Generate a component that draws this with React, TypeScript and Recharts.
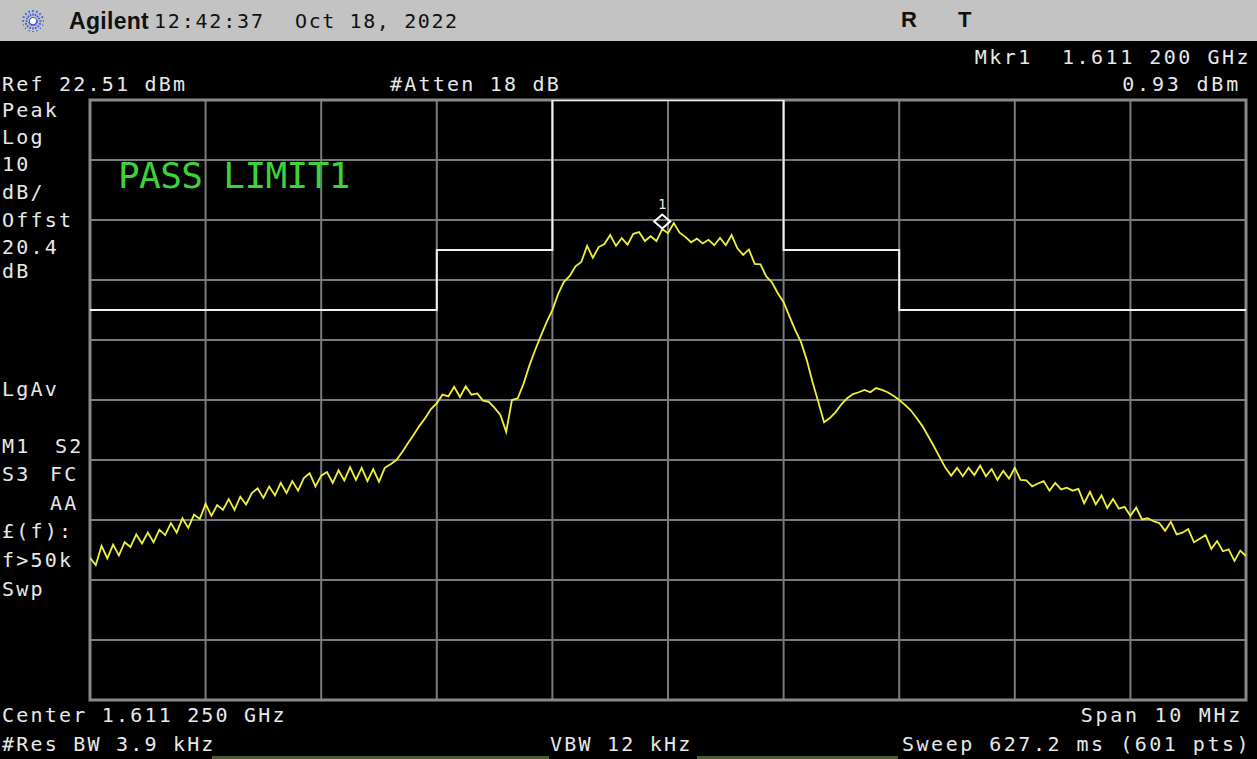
import React from 'react';
import { LineChart, Line, XAxis, YAxis, CartesianGrid, ReferenceDot, ReferenceArea } from 'recharts';

// screen: 10 div x 1 MHz around centre, 10 dB/div from ref level
const X_TICKS = [-5, -4, -3, -2, -1, 0, 1, 2, 3, 4, 5];
const Y_TICKS = [22.51, 12.51, 2.51, -7.49, -17.49, -27.49, -37.49, -47.49, -57.49, -67.49, -77.49];
const Y_MIN = -77.49;
const Y_MAX = 22.51;

// trace, every 0.05 MHz from -5 MHz (dBm)
const TRACE_START = -5;
const TRACE_STEP = 0.05;
const TRACE_DBM = [
  -53.8, -55.0, -51.8, -53.9, -51.6, -53.4, -51.2, -52.0, -49.9, -51.4,
  -49.6, -51.2, -49.1, -50.0, -48.0, -49.6, -47.2, -48.8, -46.6, -47.3,
  -44.8, -46.8, -45.0, -45.8, -44.0, -45.8, -43.6, -44.9, -43.0, -42.2,
  -43.8, -41.9, -43.4, -41.3, -43.0, -41.0, -42.6, -40.5, -39.7, -41.9,
  -40.1, -39.5, -41.3, -39.2, -40.9, -38.7, -40.8, -38.8, -41.0, -39.0,
  -41.1, -38.8, -38.2, -37.5, -36.2, -34.7, -33.3, -31.8, -30.5, -29.0,
  -28.0, -26.6, -26.9, -25.3, -27.0, -25.2, -26.6, -26.4, -27.6, -27.8,
  -28.8, -30.0, -32.8, -27.5, -27.2, -24.8, -21.8, -19.2, -16.8, -14.5,
  -12.5, -9.8, -7.8, -6.8, -5.2, -4.5, -1.8, -3.8, -2.0, -1.5,
  0.0, -1.8, -0.5, -1.6, 0.2, 0.5, -1.0, -0.2, -1.0, 1.0,
  0.3, 2.0, 0.4, -0.3, -1.2, -0.6, -1.4, -0.8, -1.7, -0.5,
  -1.7, 0.0, -2.2, -3.3, -2.4, -4.8, -4.9, -6.9, -7.9, -9.7,
  -11.2, -13.5, -15.8, -17.8, -20.8, -24.5, -27.8, -31.2, -30.5, -29.5,
  -28.2, -27.2, -26.5, -26.2, -25.8, -26.2, -25.5, -25.8, -26.2, -26.8,
  -27.5, -28.3, -29.2, -30.5, -31.8, -33.5, -35.2, -37.0, -38.8, -40.1,
  -38.8, -40.2, -38.8, -40.0, -38.4, -40.2, -39.0, -40.8, -39.3, -40.6,
  -38.8, -40.8, -40.9, -41.9, -41.4, -41.0, -42.6, -41.3, -42.4, -42.1,
  -42.6, -42.3, -44.7, -42.8, -44.9, -43.4, -45.5, -44.0, -45.6, -45.3,
  -46.8, -45.4, -47.4, -47.2, -47.7, -48.0, -49.3, -47.8, -49.9, -49.6,
  -49.0, -51.2, -50.6, -50.0, -52.3, -51.0, -52.7, -52.4, -54.3, -52.6,
  -53.5,
];

// limit line 1 (steps)
const LIMIT_F = [-5, -2, -1, 1, 2, 5];
const LIMIT_DBM = [-12.49, -2.49, 22.51, -2.49, -12.49, -12.49];

const MARKER_F = -0.05;
const MARKER_DBM = 0.93;

const LEFT_LABELS = [
  ['Peak', 2, 110], ['Log', 2, 137], ['10', 2, 164], ['dB/', 2, 192], ['Offst', 2, 220],
  ['20.4', 2, 247], ['dB', 2, 271], ['LgAv', 2, 389], ['M1', 2, 446], ['S2', 55, 446],
  ['S3', 2, 474], ['FC', 50, 474], ['AA', 50, 503], ['£(f):', 2, 531], ['f>50k', 2, 560], ['Swp', 2, 589],
];

const traceData = TRACE_DBM.map((v, i) => ({ f: +(TRACE_START + i * TRACE_STEP).toFixed(2), dbm: v }));
const limitData = LIMIT_F.map((f, i) => ({ f, dbm: LIMIT_DBM[i] }));

const MONO = '"DejaVu Sans Mono", "Liberation Mono", monospace';
const SANS = '"Liberation Sans", Arial, sans-serif';

function T({ s, x, y, right = false, size = 20, color = '#e8e8e8', ls = 2.2, font = MONO, bold = false }: any) {
  const style: any = {
    position: 'absolute',
    top: y - size * 0.48,
    lineHeight: size + 'px',
    fontSize: size,
    fontFamily: font,
    fontWeight: bold ? 700 : 400,
    color,
    letterSpacing: ls,
    whiteSpace: 'pre',
  };
  if (right) style.right = 1257 - x;
  else style.left = x;
  return <div style={style}>{s}</div>;
}

const MarkerShape = (props: any) => {
  const { cx, cy } = props;
  const top = cy - 15;
  return (
    <g>
      <polygon
        points={`${cx},${cy - 1} ${cx + 8},${cy - 8} ${cx},${top} ${cx - 8},${cy - 8}`}
        fill="none"
        stroke="#ffffff"
        strokeWidth={2}
      />
      <text x={cx} y={top - 5} fill="#e8e8e8" fontSize={14} fontFamily={MONO} textAnchor="middle">1</text>
    </g>
  );
};

const Star = () => (
  <svg width={28} height={28} style={{ position: 'absolute', left: 19, top: 7 }}>
    {[0, 22.5, 45, 67.5, 90, 112.5, 135, 157.5].map((a) => {
      const r = (a * Math.PI) / 180;
      return (
        <line key={a} x1={14 - Math.cos(r) * 11} y1={14 - Math.sin(r) * 11} x2={14 + Math.cos(r) * 11} y2={14 + Math.sin(r) * 11}
          stroke="#3a55d8" strokeWidth={1.5} strokeDasharray="2 1.5" />
      );
    })}
    <circle cx={14} cy={14} r={3} fill="#ffffff" />
  </svg>
);

export default function App() {
  return (
    <div style={{ position: 'absolute', left: 0, top: 0, width: 1257, height: 759, background: '#000', overflow: 'hidden' }}>
      {/* title bar */}
      <div style={{ position: 'absolute', left: 0, top: 0, width: 1257, height: 41, background: '#c3c3c3' }} />
      <Star />
      <T s="Agilent" x={69} y={21} size={23} font={SANS} bold color="#111" ls={0.3} />
      <T s="12:42:37" x={154} y={21} size={20} color="#111" ls={1.8} />
      <T s="Oct 18, 2022" x={295} y={21} size={20} color="#111" ls={1.6} />
      <T s="R" x={901} y={20} size={22} font={SANS} bold color="#111" ls={0} />
      <T s="T" x={958} y={20} size={22} font={SANS} bold color="#111" ls={0} />

      {/* header */}
      <T s="Mkr1  1.611 200 GHz" x={1251} y={57} right ls={2.5} />
      <T s="Ref 22.51 dBm" x={2} y={84} />
      <T s="#Atten 18 dB" x={390} y={84} />
      <T s="0.93 dBm" x={1241} y={84} right ls={2.8} />

      {LEFT_LABELS.map(([s, x, y]: any) => (
        <T key={s + y} s={s} x={x} y={y} />
      ))}

      <div style={{ position: 'absolute', left: 0, top: 0 }}>
        <LineChart width={1257} height={759} data={traceData} margin={{ top: 100, right: 11, bottom: 59, left: 90 }}>
          <XAxis type="number" dataKey="f" domain={[-5, 5]} ticks={X_TICKS} hide allowDataOverflow />
          <YAxis type="number" domain={[Y_MIN, Y_MAX]} ticks={Y_TICKS} hide allowDataOverflow />
          <CartesianGrid stroke="#7a7a7a" strokeWidth={2} />
          <ReferenceArea x1={-5} x2={5} y1={Y_MIN} y2={Y_MAX} fill="none" stroke="#888" strokeWidth={3} />
          <Line data={limitData} dataKey="dbm" type="stepAfter" stroke="#f2f2f2" strokeWidth={2} dot={false} isAnimationActive={false} />
          <Line data={traceData} dataKey="dbm" type="linear" stroke="#f0f03c" strokeWidth={1.8} dot={false} isAnimationActive={false} />
          <ReferenceDot x={MARKER_F} y={MARKER_DBM} shape={MarkerShape} />
        </LineChart>
      </div>

      <T s="PASS LIMIT1" x={118} y={175} size={36} color="#3ad43a" ls={-0.6} />

      {/* footer */}
      <T s="Center 1.611 250 GHz" x={2} y={715} />
      <T s="Span 10 MHz" x={1243} y={715} right ls={2.7} />
      <T s="#Res BW 3.9 kHz" x={2} y={744} />
      <T s="VBW 12 kHz" x={550} y={744} />
      <T s="Sweep 627.2 ms (601 pts)" x={1251} y={744} right ls={2.5} />
      <div style={{ position: 'absolute', left: 212, top: 756, width: 337, height: 3, background: '#4c5a32' }} />
      <div style={{ position: 'absolute', left: 697, top: 756, width: 201, height: 3, background: '#4c5a32' }} />
    </div>
  );
}
